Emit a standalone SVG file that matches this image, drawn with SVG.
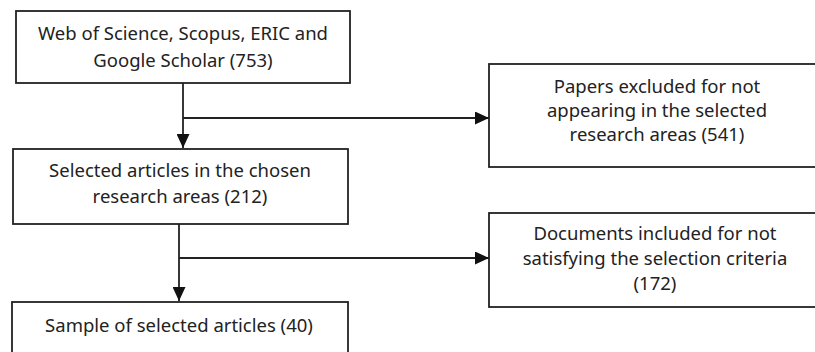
<svg xmlns="http://www.w3.org/2000/svg" width="815" height="352" viewBox="0 0 815 352">
<style>
.box{fill:#fff;stroke:#222;stroke-width:1.8}
.t{font-family:"Noto Sans","Open Sans",sans-serif;font-size:18.5px;fill:#222;text-anchor:middle}
.c{stroke:#222;stroke-width:1.8;fill:none}
</style>
<defs>
<marker id="ah" viewBox="0 0 14 13" refX="14" refY="6.5" markerWidth="14" markerHeight="13" markerUnits="userSpaceOnUse" orient="auto">
<path d="M0,0 L14,6.5 L0,13 z" fill="#111"/>
</marker>
</defs>
<rect width="815" height="352" fill="#fff"/>
<g id="connectors">
<line class="c" x1="183" y1="83" x2="183" y2="148" marker-end="url(#ah)"/>
<line class="c" x1="183" y1="118" x2="489" y2="118" marker-end="url(#ah)"/>
<line class="c" x1="179" y1="224" x2="179" y2="301" marker-end="url(#ah)"/>
<line class="c" x1="179" y1="258" x2="489" y2="258" marker-end="url(#ah)"/>
</g>
<g id="n1">
<rect class="box" x="16" y="11" width="334" height="72"/>
<text class="t" x="183" y="40">Web of Science, Scopus, ERIC and</text>
<text class="t" x="183" y="67">Google Scholar (753)</text>
</g>
<g id="n2">
<rect class="box" x="13" y="149" width="335" height="75"/>
<text class="t" x="180" y="177">Selected articles in the chosen</text>
<text class="t" x="180" y="203">research areas (212)</text>
</g>
<g id="n3">
<rect class="box" x="12" y="302" width="336" height="60"/>
<text class="t" x="179" y="332">Sample of selected articles (40)</text>
</g>
<g id="n4">
<rect class="box" x="489" y="64" width="340" height="103"/>
<text class="t" x="657" y="93">Papers excluded for not</text>
<text class="t" x="657" y="117">appearing in the selected</text>
<text class="t" x="657" y="141">research areas (541)</text>
</g>
<g id="n5">
<rect class="box" x="489" y="213" width="340" height="94"/>
<text class="t" x="655" y="240">Documents included for not</text>
<text class="t" x="655" y="265">satisfying the selection criteria</text>
<text class="t" x="655" y="290">(172)</text>
</g>
</svg>
